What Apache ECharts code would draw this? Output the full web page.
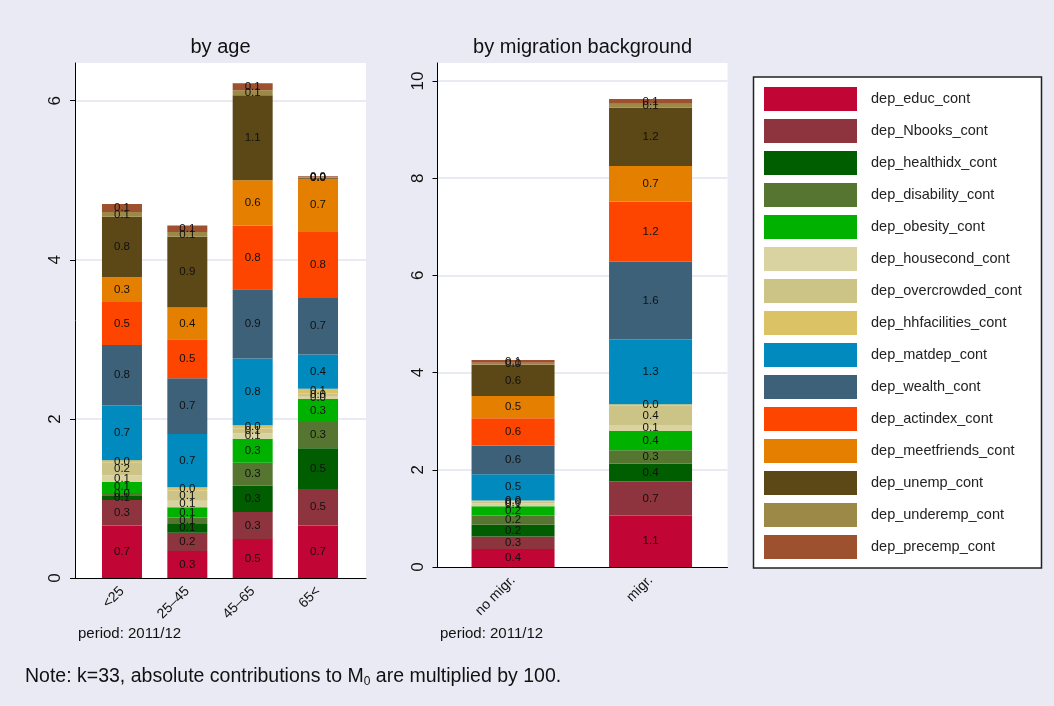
<!DOCTYPE html>
<html>
<head>
<meta charset="utf-8">
<script src="https://cdn.jsdelivr.net/npm/echarts@6.0.0/dist/echarts.min.js"></script>
</head>
<body style="margin:0;background:#eaeaf4">
<div id="container" style="width:1054px;height:706px"></div>
<script>
var components = [
    'dep_educ_cont', 'dep_Nbooks_cont', 'dep_healthidx_cont', 'dep_disability_cont',
    'dep_obesity_cont', 'dep_housecond_cont', 'dep_overcrowded_cont', 'dep_hhfacilities_cont',
    'dep_matdep_cont', 'dep_wealth_cont', 'dep_actindex_cont', 'dep_meetfriends_cont',
    'dep_unemp_cont', 'dep_underemp_cont', 'dep_precemp_cont'
];
var colors = [
    '#c10534', '#8e343e', '#005d00', '#557531', '#00b100', '#d8d3a1', '#ccc386', '#dbc264',
    '#008abd', '#3e617a', '#fe4500', '#e47f00', '#5b4816', '#9c8947', '#9e512e'
];
var ageCats = ['<25', '25–45', '45–65', '65<'];
var migCats = ['no migr.', 'migr.'];

// contributions per group, in the same order as components
var ageLt25   = [0.66, 0.32, 0.06, 0.03, 0.14, 0.08, 0.16, 0.03, 0.69, 0.76, 0.54, 0.31, 0.76, 0.06, 0.10];
var age25to45 = [0.34, 0.23, 0.11, 0.08, 0.13, 0.08, 0.13, 0.04, 0.67, 0.70, 0.49, 0.40, 0.89, 0.06, 0.08];
var age45to65 = [0.49, 0.34, 0.33, 0.29, 0.30, 0.07, 0.06, 0.04, 0.84, 0.87, 0.80, 0.57, 1.07, 0.06, 0.09];
var age65plus = [0.66, 0.46, 0.51, 0.33, 0.29, 0.03, 0.04, 0.06, 0.43, 0.71, 0.83, 0.67, 0.01, 0.01, 0.01];
var noMigr    = [0.37, 0.26, 0.24, 0.19, 0.19, 0.06, 0.04, 0.02, 0.54, 0.59, 0.56, 0.46, 0.64, 0.04, 0.06];
var migr      = [1.06, 0.70, 0.37, 0.27, 0.40, 0.12, 0.40, 0.03, 1.33, 1.60, 1.24, 0.73, 1.20, 0.08, 0.10];

var ageTicks = [0, 2, 4, 6];
var migTicks = [0, 2, 4, 6, 8, 10];

var dom = document.getElementById('container');
var myChart = echarts.init(dom, null, {renderer: 'canvas'});

var FONT = 'Liberation Sans, Arial, sans-serif';
var ageRows = [ageLt25, age25to45, age45to65, age65plus];
var migRows = [noMigr, migr];
var ageMax = 6.474, migMax = 10.37;

var barLabel = {
    show: true,
    position: 'inside',
    fontSize: 11.5,
    color: '#111',
    formatter: function (p) { return p.value.toFixed(1); }
};

var seriesList = [];
components.forEach(function (name, i) {
    seriesList.push({
        name: name, type: 'bar', stack: 'age', xAxisIndex: 1, yAxisIndex: 1,
        barWidth: 40, itemStyle: {color: colors[i]}, label: barLabel,
        data: ageRows.map(function (r) { return r[i]; })
    });
    seriesList.push({
        name: name, type: 'bar', stack: 'mig', xAxisIndex: 3, yAxisIndex: 3,
        barWidth: 83, itemStyle: {color: colors[i]}, label: barLabel,
        data: migRows.map(function (r) { return r[i]; })
    });
});

function frameX() {
    return {
        type: 'value', min: 0, max: 1, position: 'bottom',
        axisLine: {show: true, lineStyle: {color: '#000', width: 1}},
        axisTick: {show: false}, axisLabel: {show: false}, splitLine: {show: false}
    };
}
function frameY(max, ticks) {
    return {
        type: 'value', min: 0, max: max, interval: 2,
        axisLine: {show: true, lineStyle: {color: '#000', width: 1}},
        axisTick: {show: true, length: 5, lineStyle: {color: '#000'}, customValues: ticks},
        axisLabel: {show: true, rotate: 90, fontSize: 17, color: '#111', margin: 11,
            customValues: ticks},
        splitLine: {show: true, showMinLine: false,
            lineStyle: {color: '#e3e3f1', width: 1.5}}
    };
}
function barX(cats) {
    return {
        type: 'category', data: cats,
        axisLine: {show: false}, axisTick: {show: false},
        axisLabel: {rotate: 45, fontSize: 14, color: '#111', margin: 11, interval: 0}
    };
}
function barY(max) {
    return {type: 'value', min: 0, max: max, show: false, splitLine: {show: false}};
}

var option = {
    animation: false,
    backgroundColor: '#eaeaf4',
    textStyle: {fontFamily: FONT},
    grid: [
        {left: 75, top: 63, width: 291, height: 515, show: true, backgroundColor: '#fff', borderWidth: 0, outerBoundsMode: 'none'},
        {left: 89.3, top: 63, width: 261.4, height: 515, outerBoundsMode: 'none'},
        {left: 437.5, top: 63, width: 290, height: 504, show: true, backgroundColor: '#fff', borderWidth: 0, outerBoundsMode: 'none'},
        {left: 444.3, top: 63, width: 275, height: 504, outerBoundsMode: 'none'}
    ],
    xAxis: [
        Object.assign(frameX(), {gridIndex: 0}),
        Object.assign(barX(ageCats), {gridIndex: 1}),
        Object.assign(frameX(), {gridIndex: 2}),
        Object.assign(barX(migCats), {gridIndex: 3})
    ],
    yAxis: [
        Object.assign(frameY(ageMax, ageTicks), {gridIndex: 0}),
        Object.assign(barY(ageMax), {gridIndex: 1}),
        Object.assign(frameY(migMax, migTicks), {gridIndex: 2}),
        Object.assign(barY(migMax), {gridIndex: 3})
    ],
    legend: {
        orient: 'vertical', left: 764, top: 87, padding: 0,
        icon: 'rect', itemWidth: 93, itemHeight: 24, itemGap: 8,
        selectedMode: false,
        textStyle: {fontSize: 14.5, color: '#222', padding: [0, 0, 0, 9]},
        data: components
    },
    graphic: [
        {type: 'rect', z: 0, shape: {x: 753.5, y: 77, width: 288, height: 491},
            style: {fill: '#fff', stroke: '#222', lineWidth: 1.5}},
        {type: 'text', x: 220.5, y: 47, style: {text: 'by age', fontSize: 20, fill: '#111',
            align: 'center', verticalAlign: 'middle', fontFamily: FONT}},
        {type: 'text', x: 582.6, y: 47, style: {text: 'by migration background', fontSize: 20, fill: '#111',
            align: 'center', verticalAlign: 'middle', fontFamily: FONT}},
        {type: 'text', x: 78, y: 634, style: {text: 'period: 2011/12', fontSize: 15, fill: '#111',
            verticalAlign: 'middle', fontFamily: FONT}},
        {type: 'text', x: 440, y: 634, style: {text: 'period: 2011/12', fontSize: 15, fill: '#111',
            verticalAlign: 'middle', fontFamily: FONT}},
        {type: 'text', x: 25, y: 677, style: {
            text: '{a|Note: k=33, absolute contributions to M}{s|0}{a| are multiplied by 100.}',
            verticalAlign: 'middle', fontFamily: FONT,
            rich: {
                a: {fontSize: 19.5, fill: '#111', fontFamily: FONT},
                s: {fontSize: 12, fill: '#111', padding: [9, 0, 0, 0], fontFamily: FONT}
            }
        }}
    ],
    series: seriesList
};

myChart.setOption(option);
window.addEventListener('resize', myChart.resize);
</script>
</body>
</html>
